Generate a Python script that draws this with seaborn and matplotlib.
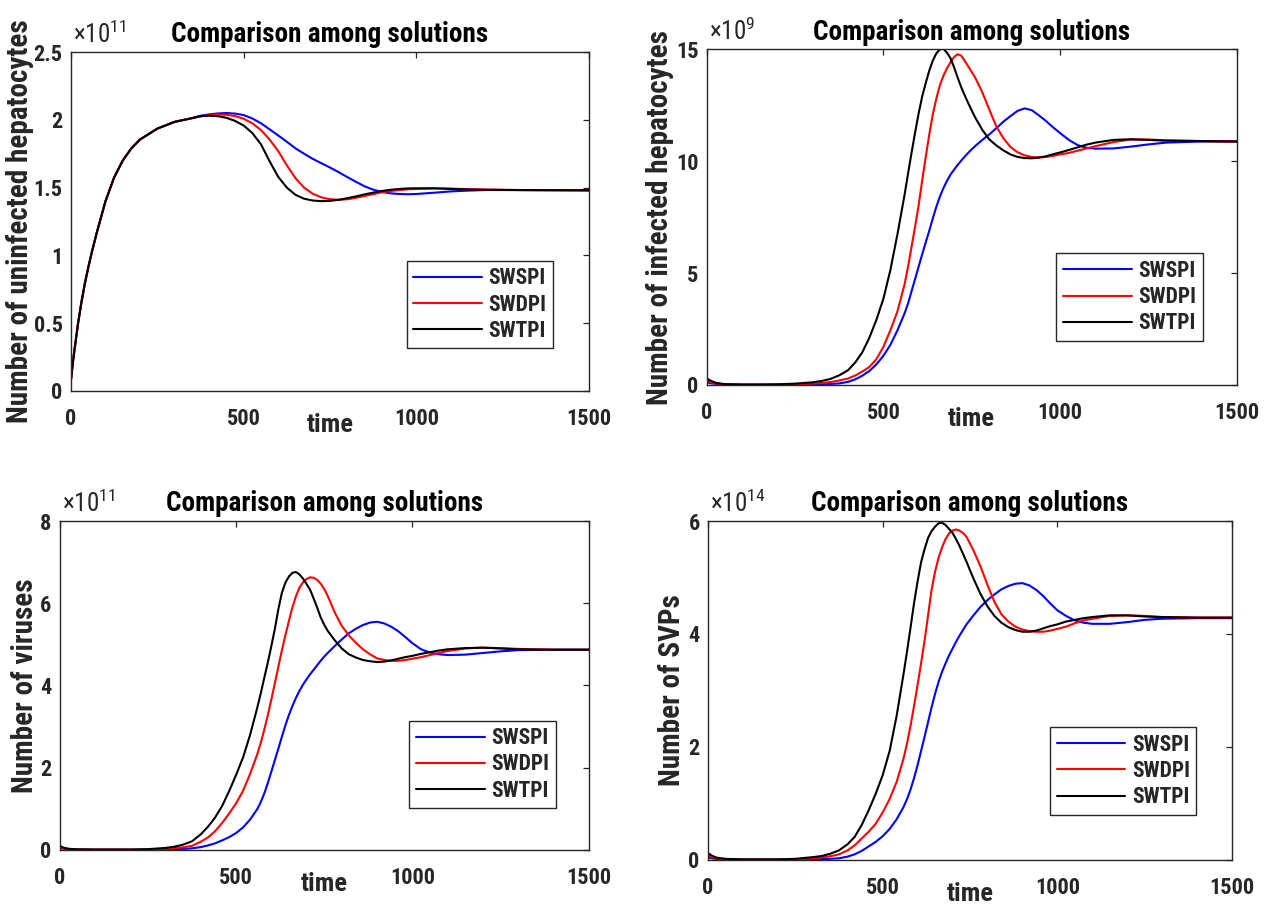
import numpy as np
import pandas as pd
import matplotlib
matplotlib.use("Agg")
import matplotlib.pyplot as plt
import seaborn as sns
from matplotlib.ticker import FuncFormatter
from matplotlib import font_manager

# ---------------- data ----------------
series_names = ["SWSPI", "SWDPI", "SWTPI"]
series_colors = ["#0000ff", "#ff0000", "#000000"]

title_text = "Comparison among solutions"
x_label = "time"
y_labels = ["Number of uninfected hepatocytes", "Number of infected hepatocytes",
            "Number of viruses", "Number of SVPs"]
exponents = [11, 9, 11, 14]
y_limits = [2.5, 15, 8, 6]
y_ticks = [[0, 0.5, 1, 1.5, 2, 2.5], [0, 5, 10, 15], [0, 2, 4, 6, 8], [0, 2, 4, 6]]
x_ticks = [0, 500, 1000, 1500]

# panel 1: uninfected hepatocytes (x 1e11)
time_uninf = [0, 5, 10, 20, 30, 40, 50, 60, 75, 100, 125, 150, 175, 200, 250, 300, 350,
              375, 400, 425, 450, 475, 500, 525, 550, 575, 600, 625, 650, 675, 700, 725,
              750, 775, 800, 825, 850, 875, 900, 925, 950, 975, 1000, 1050, 1100, 1150,
              1200, 1300, 1400, 1500]
uninf_early = [0.08, 0.20, 0.30, 0.49, 0.65, 0.79, 0.91, 1.02, 1.17, 1.40, 1.575, 1.70,
               1.79, 1.855, 1.935, 1.985, 2.012]
uninf_swspi = uninf_early + [2.03, 2.04, 2.047, 2.05, 2.046, 2.035, 2.01, 1.975, 1.93, 1.885,
                             1.838, 1.79, 1.75, 1.712, 1.68, 1.648, 1.614, 1.578, 1.543, 1.51,
                             1.485, 1.468, 1.458, 1.453, 1.451, 1.453, 1.462, 1.472, 1.478,
                             1.482, 1.482, 1.481, 1.48]
uninf_swdpi = uninf_early + [2.025, 2.035, 2.04, 2.037, 2.028, 2.008, 1.975, 1.925, 1.855, 1.77,
                             1.665, 1.57, 1.50, 1.455, 1.428, 1.414, 1.41, 1.414, 1.425, 1.438,
                             1.452, 1.465, 1.475, 1.482, 1.487, 1.49, 1.494, 1.493, 1.489,
                             1.486, 1.482, 1.481, 1.48]
uninf_swtpi = uninf_early + [2.027, 2.03, 2.027, 2.015, 1.992, 1.958, 1.903, 1.82, 1.695, 1.58,
                             1.50, 1.447, 1.418, 1.405, 1.40, 1.402, 1.41, 1.422, 1.435, 1.45,
                             1.463, 1.475, 1.484, 1.49, 1.494, 1.495, 1.495, 1.49, 1.486,
                             1.484, 1.482, 1.481, 1.48]

# panels 2-4 share this time grid
time_grid = [0, 10, 25, 50, 100, 150, 200, 250, 300, 325,
             350, 375, 400, 420, 440, 460, 480, 500, 520, 540,
             560, 570, 580, 590, 600, 610, 620, 630, 640, 650,
             660, 670, 680, 690, 700, 710, 720, 730, 740, 750,
             760, 780, 800, 820, 840, 860, 880, 900, 920, 940,
             960, 980, 1000, 1025, 1050, 1075, 1100, 1150, 1200, 1250,
             1300, 1400, 1500]

# panel 2: infected hepatocytes (x 1e9)
inf_swspi = [0.12, 0.08, 0.05, 0.02, 0.01, 0.01, 0.01, 0.01, 0.02, 0.03,
             0.045, 0.07, 0.14, 0.25, 0.41, 0.62, 0.92, 1.30, 1.80, 2.45,
             3.20, 3.65, 4.20, 4.75, 5.30, 5.85, 6.38, 6.90, 7.45, 7.97,
             8.42, 8.80, 9.12, 9.40, 9.62, 9.83, 10.02, 10.20, 10.37, 10.53,
             10.68, 10.95, 11.20, 11.48, 11.77, 12.02, 12.25, 12.36, 12.28, 12.05,
             11.80, 11.52, 11.26, 10.95, 10.72, 10.60, 10.56, 10.57, 10.65, 10.75,
             10.83, 10.88, 10.88]
inf_swdpi = [0.22, 0.14, 0.07, 0.03, 0.02, 0.02, 0.02, 0.03, 0.06, 0.09,
             0.13, 0.20, 0.29, 0.42, 0.60, 0.80, 1.15, 1.70, 2.45, 3.30,
             4.50, 5.30, 6.20, 7.10, 8.05, 9.15, 10.20, 11.20, 12.10, 12.80,
             13.40, 13.82, 14.15, 14.42, 14.65, 14.78, 14.72, 14.50, 14.24, 13.99,
             13.73, 13.08, 12.30, 11.54, 11.02, 10.63, 10.40, 10.26, 10.19, 10.17,
             10.19, 10.24, 10.30, 10.37, 10.47, 10.57, 10.67, 10.85, 10.97, 10.97,
             10.93, 10.90, 10.88]
inf_swtpi = [0.30, 0.20, 0.10, 0.04, 0.02, 0.02, 0.03, 0.06, 0.12, 0.18,
             0.27, 0.43, 0.66, 1.00, 1.45, 2.10, 2.90, 3.85, 5.15, 6.75,
             8.50, 9.46, 10.40, 11.30, 12.15, 12.90, 13.50, 14.05, 14.50, 14.82,
             15.00, 15.02, 14.85, 14.60, 14.20, 13.75, 13.32, 12.95, 12.60, 12.27,
             11.95, 11.40, 10.97, 10.70, 10.48, 10.30, 10.19, 10.14, 10.13, 10.16,
             10.22, 10.31, 10.39, 10.50, 10.62, 10.74, 10.83, 10.95, 10.98, 10.95,
             10.92, 10.90, 10.88]

# panel 3: viruses (x 1e11)
vir_swspi = [0.05, 0.03, 0.015, 0.01, 0.005, 0.005, 0.005, 0.005, 0.01, 0.015,
             0.025, 0.04, 0.07, 0.11, 0.16, 0.23, 0.31, 0.41, 0.55, 0.74,
             0.99, 1.16, 1.37, 1.62, 1.90, 2.18, 2.46, 2.75, 3.03, 3.28,
             3.50, 3.70, 3.87, 4.02, 4.15, 4.27, 4.38, 4.49, 4.60, 4.70,
             4.79, 4.96, 5.12, 5.27, 5.38, 5.47, 5.53, 5.55, 5.51, 5.43,
             5.32, 5.18, 5.03, 4.88, 4.80, 4.76, 4.74, 4.75, 4.79, 4.83,
             4.86, 4.87, 4.87]
vir_swdpi = [0.07, 0.04, 0.02, 0.01, 0.01, 0.01, 0.01, 0.01, 0.03, 0.045,
             0.065, 0.10, 0.20, 0.30, 0.45, 0.65, 0.88, 1.13, 1.44, 1.85,
             2.32, 2.60, 2.92, 3.27, 3.65, 4.05, 4.45, 4.85, 5.22, 5.57,
             5.90, 6.17, 6.38, 6.51, 6.59, 6.63, 6.62, 6.57, 6.48, 6.35,
             6.18, 5.78, 5.45, 5.22, 5.04, 4.88, 4.76, 4.66, 4.62, 4.60,
             4.60, 4.62, 4.65, 4.69, 4.74, 4.79, 4.84, 4.90, 4.92, 4.91,
             4.89, 4.87, 4.87]
vir_swtpi = [0.10, 0.06, 0.03, 0.015, 0.01, 0.01, 0.01, 0.02, 0.05, 0.08,
             0.13, 0.21, 0.38, 0.56, 0.78, 1.06, 1.42, 1.82, 2.25, 2.80,
             3.45, 3.80, 4.18, 4.55, 4.95, 5.37, 5.85, 6.25, 6.50, 6.65,
             6.74, 6.76, 6.70, 6.60, 6.47, 6.33, 6.12, 5.90, 5.66, 5.48,
             5.33, 5.10, 4.90, 4.76, 4.68, 4.62, 4.59, 4.57, 4.58, 4.61,
             4.65, 4.69, 4.72, 4.77, 4.81, 4.85, 4.88, 4.91, 4.92, 4.90,
             4.88, 4.87, 4.87]

# panel 4: SVPs (x 1e14)
svp_swspi = [0.04, 0.03, 0.015, 0.01, 0.005, 0.005, 0.005, 0.005, 0.01, 0.015,
             0.02, 0.03, 0.06, 0.10, 0.16, 0.24, 0.32, 0.42, 0.55, 0.72,
             0.94, 1.08, 1.25, 1.45, 1.68, 1.93, 2.18, 2.44, 2.70, 2.94,
             3.15, 3.33, 3.48, 3.62, 3.74, 3.86, 3.97, 4.07, 4.17, 4.25,
             4.33, 4.48, 4.60, 4.70, 4.79, 4.85, 4.89, 4.90, 4.86, 4.78,
             4.67, 4.54, 4.42, 4.32, 4.24, 4.20, 4.18, 4.18, 4.21, 4.25,
             4.27, 4.28, 4.28]
svp_swdpi = [0.08, 0.05, 0.03, 0.015, 0.01, 0.01, 0.01, 0.01, 0.03, 0.045,
             0.065, 0.10, 0.17, 0.26, 0.38, 0.50, 0.64, 0.84, 1.08, 1.38,
             1.80, 2.07, 2.38, 2.73, 3.10, 3.48, 3.88, 4.33, 4.78, 5.10,
             5.35, 5.53, 5.68, 5.78, 5.83, 5.85, 5.83, 5.79, 5.72, 5.60,
             5.48, 5.20, 4.87, 4.57, 4.35, 4.22, 4.13, 4.08, 4.05, 4.04,
             4.04, 4.06, 4.09, 4.13, 4.19, 4.24, 4.27, 4.32, 4.33, 4.32,
             4.30, 4.29, 4.29]
svp_swtpi = [0.12, 0.08, 0.04, 0.02, 0.01, 0.01, 0.01, 0.02, 0.05, 0.07,
             0.11, 0.17, 0.28, 0.41, 0.62, 0.88, 1.17, 1.50, 1.93, 2.55,
             3.30, 3.70, 4.12, 4.55, 4.93, 5.27, 5.50, 5.70, 5.82, 5.90,
             5.96, 5.97, 5.93, 5.86, 5.79, 5.68, 5.56, 5.42, 5.28, 5.13,
             4.98, 4.71, 4.49, 4.32, 4.20, 4.12, 4.07, 4.04, 4.04, 4.06,
             4.10, 4.14, 4.17, 4.22, 4.25, 4.28, 4.30, 4.33, 4.33, 4.31,
             4.30, 4.29, 4.29]

panels = [
    (time_uninf, [uninf_swspi, uninf_swdpi, uninf_swtpi]),
    (time_grid, [inf_swspi, inf_swdpi, inf_swtpi]),
    (time_grid, [vir_swspi, vir_swdpi, vir_swtpi]),
    (time_grid, [svp_swspi, svp_swdpi, svp_swtpi]),
]

# ---------------- style ----------------
sns.set_style("white")
available = {f.name for f in font_manager.fontManager.ttflist}
main_font = "Liberation Sans"
for cand in ["Liberation Sans Narrow", "Roboto Condensed", "DejaVu Sans Condensed"]:
    if cand in available:
        main_font = cand
        break
plt.rcParams["font.family"] = [main_font, "DejaVu Sans"]
plt.rcParams["mathtext.fontset"] = "custom"
plt.rcParams["mathtext.rm"] = main_font
plt.rcParams["mathtext.it"] = main_font
plt.rcParams["mathtext.bf"] = main_font + ":bold"

axis_color = "#262626"
fig = plt.figure(figsize=(12.81, 9.08), dpi=100)

# axes rectangles [left, bottom, width, height] in figure fraction
rects = [
    [0.0554, 0.5694, 0.4044, 0.3733],
    [0.5517, 0.5760, 0.4137, 0.3697],
    [0.0466, 0.0639, 0.4129, 0.3623],
    [0.5527, 0.0529, 0.4090, 0.3733],
]
legend_anchor = [(0.648, 0.384), (0.660, 0.392), (0.661, 0.393), (0.653, 0.392)]
ylabel_x = [-0.072, -0.062, -0.039, -0.042]

palette = dict(zip(series_names, series_colors))

for i, (t, series) in enumerate(panels):
    ax = fig.add_axes(rects[i])
    df = pd.DataFrame({
        "time": np.concatenate([t] * len(series)),
        "value": np.concatenate(series),
        "solution": np.repeat(series_names, len(t)),
    })
    sns.lineplot(data=df, x="time", y="value", hue="solution", hue_order=series_names,
                 palette=palette, linewidth=1.5, ax=ax, estimator=None)
    ax.set_xlim(0, 1500)
    ax.set_ylim(0, y_limits[i])
    ax.set_xticks(x_ticks)
    ax.set_yticks(y_ticks[i])
    fmt = FuncFormatter(lambda v, _: f"{v:g}")
    ax.xaxis.set_major_formatter(fmt)
    ax.yaxis.set_major_formatter(fmt)
    for sp in ax.spines.values():
        sp.set_visible(True)
        sp.set_color(axis_color)
        sp.set_linewidth(1.0)
    ax.tick_params(axis="both", which="major", direction="in", length=4, width=0.9,
                   color=axis_color, top=True, right=True, labelsize=16,
                   labelcolor="#262626")
    ax.tick_params(axis="x", pad=12)
    ax.tick_params(axis="y", pad=6)
    for lab in ax.get_xticklabels() + ax.get_yticklabels():
        lab.set_fontweight("bold")
    ax.set_xlabel(x_label, fontsize=19, fontweight="bold", color="#262626", labelpad=-12)
    ax.set_ylabel(y_labels[i], fontsize=21, fontweight="bold", color="#262626")
    ax.yaxis.set_label_coords(ylabel_x[i], 0.5)
    ax.set_title(title_text, fontsize=19.5, fontweight="bold", color="black", pad=7)
    ax.text(0.004, 1.012, rf"$\times10^{{{exponents[i]}}}$", transform=ax.transAxes,
            ha="left", va="bottom", fontsize=18, color="#262626")
    handles, labels = ax.get_legend_handles_labels()
    leg = ax.legend(handles, labels, loc="upper left", bbox_to_anchor=legend_anchor[i],
                    borderaxespad=0, frameon=True, fancybox=False, framealpha=1,
                    edgecolor=axis_color, prop={"weight": "bold", "size": 15.5},
                    handlelength=3.2, handletextpad=0.3, borderpad=0.3, labelspacing=0.2)
    leg.get_frame().set_linewidth(1.0)
    for line in leg.get_lines():
        line.set_linewidth(1.5)

fig.savefig("out.png", dpi=100)
